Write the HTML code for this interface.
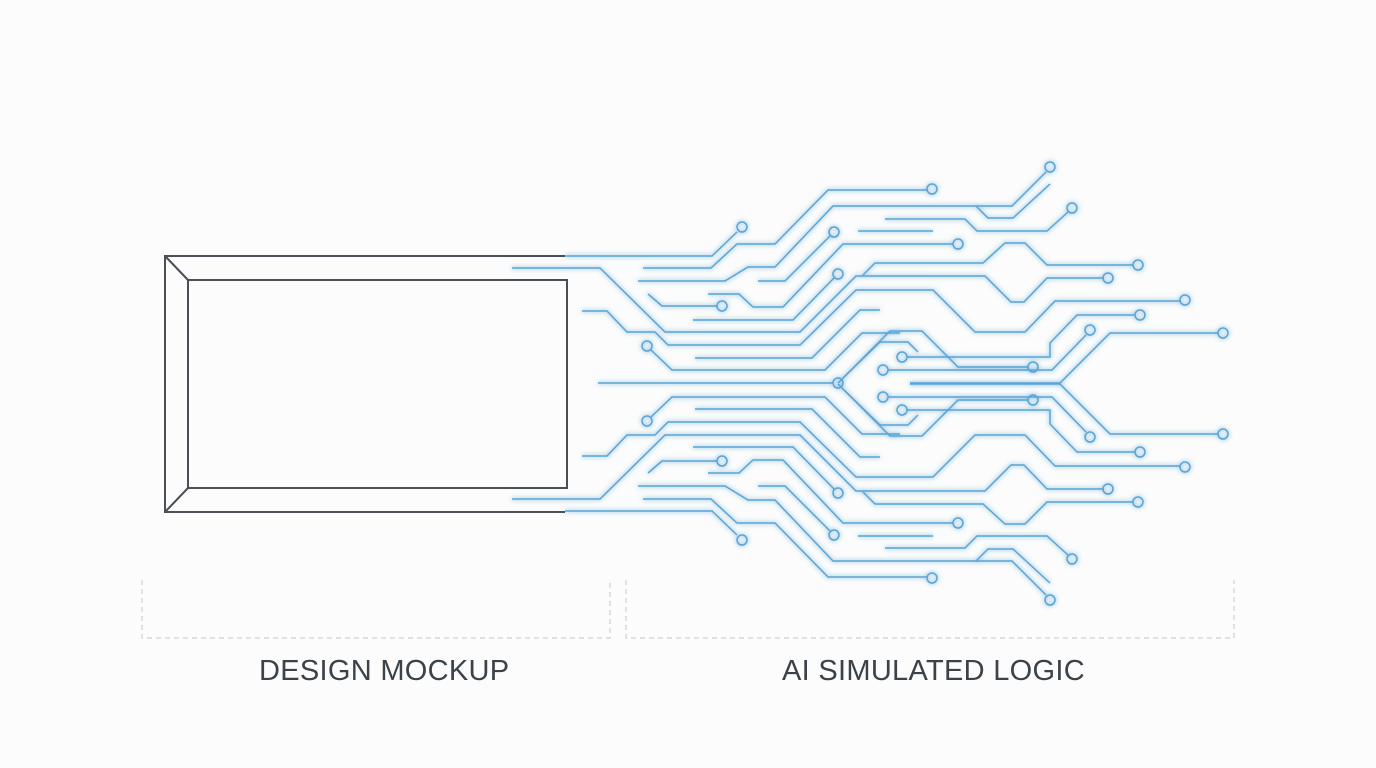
<!DOCTYPE html>
<html><head><meta charset="utf-8"><style>
html,body{margin:0;padding:0;background:#fbfcfb;}
body{width:1376px;height:768px;overflow:hidden;position:relative;font-family:"Liberation Sans",sans-serif;}
.lbl{position:absolute;top:655px;font-size:29px;color:#3c4249;letter-spacing:0.3px;}
</style></head><body>
<svg width="1376" height="768" style="position:absolute;left:0;top:0">
<defs>
<filter id="g" x="-10%" y="-10%" width="120%" height="120%">
<feGaussianBlur in="SourceGraphic" stdDeviation="2.5" result="b"/>
<feMerge><feMergeNode in="b"/><feMergeNode in="SourceGraphic"/></feMerge>
</filter>
<g id="top" fill="none" stroke="#5aa4d6" stroke-width="1.5">
<path d="M565,256 H712 L737,232"/><circle cx="742" cy="227" r="5"/>
<path d="M643,268 H711 L737,244 H775 L828,190 H927"/><circle cx="932" cy="189" r="5"/>
<path d="M638,281 H725 L748,267 H775 L833,206 H1012 L1046,172"/><circle cx="1050" cy="167" r="5"/>
<path d="M976,206 L988,218 H1013 L1050,184"/>
<path d="M885,219 H965 L977,231 H1047 L1068,212"/><circle cx="1072" cy="208" r="5"/>
<path d="M858,231 H933"/>
<path d="M758,281 H785 L830,236"/><circle cx="834" cy="232" r="5"/>
<path d="M708,294 H739 L753,307 H783 L843,244 H953"/><circle cx="958" cy="244" r="5"/>
<path d="M648,294 L662,306 H717"/><circle cx="722" cy="306" r="5"/>
<path d="M693,320 H793 L834,278"/><circle cx="838" cy="274" r="5"/>
<path d="M863,275 L875,263 H983 L1005,243 H1025 L1047,265 H1133"/><circle cx="1138" cy="265" r="5"/>
<path d="M582,311 H607 L627,332 H655 L668,345 H800 L856,290 H933 L975,332 H1025 L1055,301 H1180"/><circle cx="1185" cy="300" r="5"/>
<path d="M512,268 H600 L665,332 H800 L856,276 H985 L1011,302 H1024 L1047,278 H1104"/><circle cx="1108" cy="278" r="5"/>
<path d="M695,358 H812 L860,310 H880"/>
<path d="M651,350 L672,370 H825 L862,333 H900"/><circle cx="647" cy="346" r="5"/>
<path d="M907,357 H1050 V343 L1077,315 H1135"/><circle cx="902" cy="357" r="5"/><circle cx="1140" cy="315" r="5"/>
<path d="M888,370 H1052 L1086,335"/><circle cx="883" cy="370" r="5"/><circle cx="1090" cy="330" r="5"/>
<path d="M910,383 H1060 L1110,333 H1218"/><circle cx="1223" cy="333" r="5"/>
<path d="M843,378 L890,331 H922 L958,367 H1028"/><circle cx="1033" cy="367" r="5"/>
<path d="M838,383 L880,342 H908 L918,352"/>
</g>
</defs>
<g filter="url(#g)">
<use href="#top"/>
<use href="#top" transform="matrix(1,0,0,-1,0,767)"/>
<g fill="none" stroke="#5aa4d6" stroke-width="1.5">
<path d="M598,383 H833"/><circle cx="838" cy="383" r="5"/>
</g>
</g>
<g fill="none" stroke="#4a4f55" stroke-width="2">
<path d="M565,256 H165 V512 H565"/>
<rect x="188" y="280" width="379" height="208"/>
<path d="M165,256 L188,280 M165,512 L188,488"/>
</g>
<g fill="none" stroke="#bccacd" stroke-width="1" stroke-dasharray="5,4">
<path d="M142,580 V638 H610 V580"/>
<path d="M626,580 V638 H1234 V580"/>
</g>
</svg>
<div class="lbl" style="left:259px">DESIGN MOCKUP</div>
<div class="lbl" style="left:782px">AI SIMULATED LOGIC</div>
</body></html>
